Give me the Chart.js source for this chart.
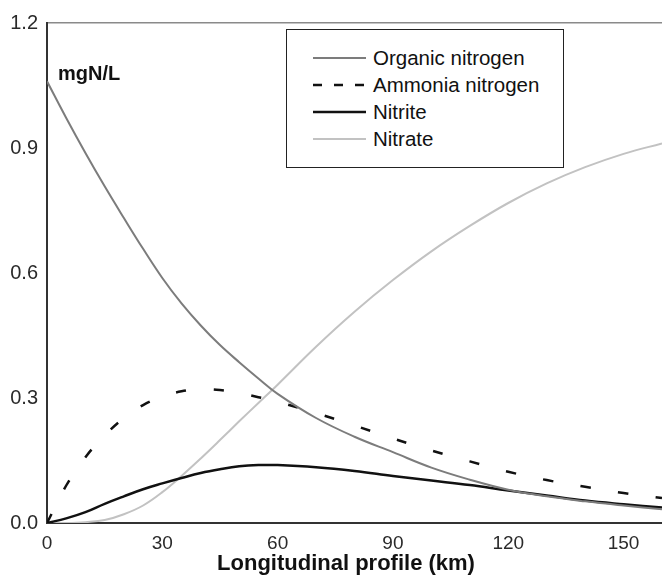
<!DOCTYPE html>
<html>
<head>
<meta charset="utf-8">
<script src="https://cdn.jsdelivr.net/npm/chart.js@4.4.1/dist/chart.umd.min.js"></script>
<style>
  html, body { margin: 0; padding: 0; background: #fff; }
  #wrap { position: relative; width: 662px; height: 581px; font-family: "Liberation Sans", Arial, sans-serif; color: #111; }
  #wrap canvas { position: absolute; left: 0; top: 0; }
  .unit { position: absolute; left: 58px; top: 61px; font-size: 20px; font-weight: bold; line-height: 24px; }
  .xtitle { position: absolute; left: 146px; width: 400px; top: 550px; text-align: center; font-size: 22px; font-weight: bold; line-height: 26px; }
  .legend { position: absolute; left: 286px; top: 29px; width: 278px; height: 139px; box-sizing: border-box; border: 1.5px solid #222; background: #fff; }
  .legend .row { position: absolute; left: 26px; height: 24px; display: flex; align-items: center; font-size: 20.5px; white-space: nowrap; }
  .legend svg { width: 53px; height: 6px; margin-right: 7px; }
</style>
</head>
<body>
<div id="wrap">
  <canvas id="profile"></canvas>
  <div class="unit">mgN/L</div>
  <div class="xtitle">Longitudinal profile (km)</div>
  <div class="legend" id="legend"></div>
</div>
<script>
'use strict';

// distance along the river, km
const distance = [0, 5, 10, 15, 20, 25, 30, 35, 40, 45, 50, 55, 60, 70, 80, 90, 100, 110, 120, 130, 140, 150, 160];

// concentrations, mgN/L
const organicN = [1.06, 0.972, 0.888, 0.808, 0.732, 0.658, 0.588, 0.527, 0.474, 0.427, 0.386, 0.347, 0.31, 0.252, 0.207, 0.17, 0.133, 0.104, 0.08, 0.064, 0.052, 0.042, 0.033];
const ammoniaN = [0, 0.09, 0.158, 0.21, 0.252, 0.283, 0.303, 0.316, 0.321, 0.319, 0.312, 0.302, 0.291, 0.264, 0.234, 0.203, 0.174, 0.148, 0.123, 0.103, 0.087, 0.072, 0.06];
const nitrite = [0, 0.011, 0.026, 0.046, 0.064, 0.081, 0.095, 0.108, 0.12, 0.129, 0.136, 0.139, 0.139, 0.134, 0.125, 0.113, 0.102, 0.091, 0.078, 0.066, 0.054, 0.045, 0.037];
const nitrate = [0, 0, 0.002, 0.007, 0.021, 0.042, 0.074, 0.113, 0.155, 0.199, 0.244, 0.288, 0.332, 0.423, 0.507, 0.583, 0.652, 0.713, 0.768, 0.815, 0.854, 0.886, 0.911];

const xTicks = [0, 30, 60, 90, 120, 150];
const yTicks = [0, 0.3, 0.6, 0.9, 1.2];

const SERIES = [
  { label: 'Organic nitrogen', values: organicN, color: '#7c7c7c', width: 2, dash: [] },
  { label: 'Ammonia nitrogen', values: ammoniaN, color: '#111111', width: 2.5, dash: [10, 28] },
  { label: 'Nitrite', values: nitrite, color: '#111111', width: 2.5, dash: [] },
  { label: 'Nitrate', values: nitrate, color: '#c2c2c2', width: 2, dash: [] },
];

const fontFamily = "'Liberation Sans', Arial, sans-serif";

const datasets = SERIES.map(s => ({
  label: s.label,
  data: distance.map((x, i) => ({ x, y: s.values[i] })),
  borderColor: s.color,
  borderWidth: s.width,
  borderDash: s.dash,
  pointRadius: 0,
  fill: false,
  tension: 0.4,
}));

new Chart(document.getElementById('profile'), {
  type: 'line',
  data: { datasets },
  options: {
    responsive: true,
    maintainAspectRatio: false,
    animation: false,
    layout: { padding: { top: 23, right: 0, bottom: 0, left: 0 } },
    plugins: { legend: { display: false }, tooltip: { enabled: false } },
    scales: {
      x: {
        type: 'linear',
        min: 0,
        max: 160,
        afterBuildTicks: (scale) => { scale.ticks = xTicks.map(v => ({ value: v })); },
        afterFit: (scale) => { scale.height = 58; },
        grid: { display: false, drawTicks: false },
        border: { color: '#333', width: 2 },
        ticks: { color: '#2a2a2a', font: { family: fontFamily, size: 19 }, padding: 9, maxRotation: 0 },
      },
      y: {
        min: 0,
        max: 1.2,
        afterBuildTicks: (scale) => { scale.ticks = yTicks.map(v => ({ value: v })); },
        afterFit: (scale) => { scale.width = 47; },
        grid: {
          drawTicks: false,
          lineWidth: 1.5,
          color: (c) => (c.tick && c.tick.value === 1.2 ? '#8a8a8a' : 'rgba(0,0,0,0)'),
        },
        border: { color: '#333', width: 2 },
        ticks: { color: '#2a2a2a', font: { family: fontFamily, size: 20 }, padding: 9, callback: v => v.toFixed(1) },
      },
    },
  },
});

// legend box with line samples
const legend = document.getElementById('legend');
SERIES.forEach((s, i) => {
  const row = document.createElement('div');
  row.className = 'row';
  row.style.top = (16 + i * 27) + 'px';
  const dash = s.dash.length ? 'stroke-dasharray="9,12"' : '';
  row.innerHTML =
    `<svg viewBox="0 0 53 6"><line x1="0" y1="3" x2="53" y2="3" stroke="${s.color}" stroke-width="${s.width}" ${dash}/></svg>` +
    `<span>${s.label}</span>`;
  legend.appendChild(row);
});
</script>
</body>
</html>
